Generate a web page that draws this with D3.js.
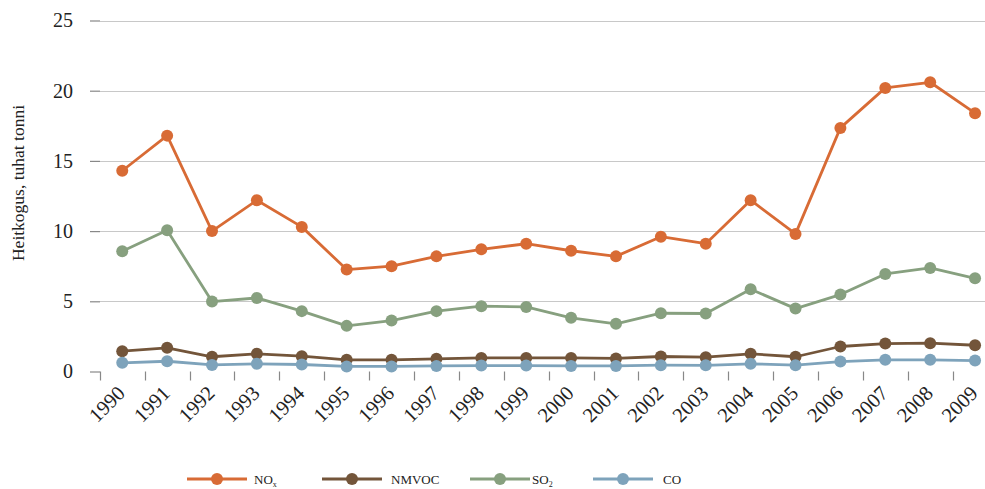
<!DOCTYPE html>
<html>
<head>
<meta charset="utf-8">
<script src="https://cdn.jsdelivr.net/npm/d3@7"></script>
<style>
  body { margin: 0; background: #fff; }
  svg { display: block; }
  text { font-family: "Liberation Serif", "Times New Roman", serif; fill: #222; }
</style>
</head>
<body>
<svg id="chart" width="985" height="489"></svg>
<script>
const years = ["1990","1991","1992","1993","1994","1995","1996","1997","1998","1999","2000","2001","2002","2003","2004","2005","2006","2007","2008","2009"];
const nox   = [14.3,16.8,10.0,12.2,10.3,7.26,7.5,8.2,8.7,9.1,8.6,8.2,9.6,9.1,12.2,9.8,17.35,20.2,20.6,18.4];
const nmvoc = [1.45,1.69,1.05,1.26,1.09,0.83,0.83,0.9,0.97,0.97,0.97,0.93,1.07,1.02,1.26,1.05,1.78,1.99,2.02,1.87];
const so2   = [8.56,10.06,4.98,5.24,4.3,3.25,3.63,4.3,4.65,4.6,3.82,3.4,4.15,4.13,5.86,4.48,5.48,6.95,7.38,6.64];
const co    = [0.62,0.73,0.47,0.55,0.5,0.36,0.36,0.4,0.42,0.42,0.4,0.4,0.45,0.44,0.55,0.45,0.71,0.83,0.83,0.78];
const yTicks = [0,5,10,15,20,25];
const seriesNames = ["NOx","NMVOC","SO2","CO"];
const seriesColors = ["#d86b35","#73553a","#87a07f","#7ea3bb"];

const series = [
  {name: seriesNames[0], values: nox, color: seriesColors[0], label: ["NO","x"]},
  {name: seriesNames[1], values: nmvoc, color: seriesColors[1], label: ["NMVOC",""]},
  {name: seriesNames[2], values: so2, color: seriesColors[2], label: ["SO","2"]},
  {name: seriesNames[3], values: co, color: seriesColors[3], label: ["CO",""]}
];
const drawOrder = [0,2,1,3];

const svg = d3.select("#chart");
const plotLeft = 100, plotRight = 985, plotTop = 20.5, plotBottom = 371.5;

const x = d3.scaleBand().domain(years).range([99.8, 997.5]);
const y = d3.scaleLinear().domain([0,25]).range([plotBottom, plotTop]);

const g = svg.append("g");
g.selectAll("line.grid").data(yTicks.filter(d => d > 0)).enter().append("line")
  .attr("x1", plotLeft).attr("x2", plotRight)
  .attr("y1", d => Math.round(y(d)) + 0.5).attr("y2", d => Math.round(y(d)) + 0.5)
  .attr("stroke", "#c8c8c8").attr("stroke-width", 1.2);

const yAxis = d3.axisLeft(y).tickValues(yTicks).tickSize(10).tickPadding(17).tickFormat(d3.format("d"));
const ya = svg.append("g").attr("transform", `translate(${plotLeft},0)`).call(yAxis);
ya.select(".domain").remove();
ya.selectAll(".tick line").attr("stroke", "#888").attr("stroke-width", 1.2);
ya.selectAll(".tick text").style("font-family", '"Liberation Serif", serif').style("font-size", "20px").attr("fill", "#222");

const xa = svg.append("g");
const bounds = years.map(d => x(d));
xa.selectAll("line").data(bounds.filter(b => b < plotRight)).enter().append("line")
  .attr("x1", d => Math.round(d) + 0.5).attr("x2", d => Math.round(d) + 0.5)
  .attr("y1", plotBottom).attr("y2", plotBottom + 9)
  .attr("stroke", "#888").attr("stroke-width", 1.2);

xa.selectAll("text").data(years).enter().append("text")
  .attr("transform", d => `translate(${x(d) + x.bandwidth()/2 + 4},${plotBottom + 23}) rotate(-45)`)
  .attr("text-anchor", "end")
  .style("font-size", "20.5px")
  .text(d => d);

svg.append("text")
  .attr("transform", `translate(24,183) rotate(-90)`)
  .attr("text-anchor", "middle")
  .style("font-size", "17.5px")
  .text("Heitkogus, tuhat tonni");

const line = d3.line().x((d,i) => x(years[i]) + x.bandwidth()/2).y(d => y(d));
drawOrder.forEach(k => {
  const s = series[k];
  const sg = svg.append("g");
  sg.append("path").datum(s.values).attr("d", line)
    .attr("fill", "none").attr("stroke", s.color).attr("stroke-width", 2.8).attr("stroke-linejoin", "round");
  sg.selectAll("circle").data(s.values).enter().append("circle")
    .attr("cx", (d,i) => x(years[i]) + x.bandwidth()/2)
    .attr("cy", d => y(d))
    .attr("r", 6)
    .attr("fill", s.color);
});

const legendX = [187, 322, 470, 593];
const legendLabelX = [254, 391, 532, 663];
const ly = 479;
series.forEach((s, i) => {
  const lg = svg.append("g");
  lg.append("line").attr("x1", legendX[i]).attr("x2", legendX[i] + 60)
    .attr("y1", ly).attr("y2", ly).attr("stroke", s.color).attr("stroke-width", 3);
  lg.append("circle").attr("cx", legendX[i] + 30).attr("cy", ly).attr("r", 6).attr("fill", s.color);
  const t = lg.append("text").attr("x", legendLabelX[i]).attr("y", ly + 4.5).style("font-size", "13px");
  t.append("tspan").text(s.label[0]);
  if (s.label[1]) t.append("tspan").attr("dy", 3.5).style("font-size", "8px").text(s.label[1]);
});
</script>
</body>
</html>
